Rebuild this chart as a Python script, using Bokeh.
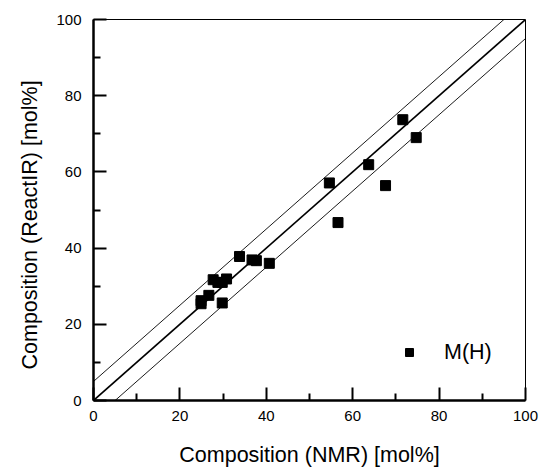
from bokeh.plotting import figure
from bokeh.models import Range1d, Legend, LegendItem, Title, FixedTicker
from bokeh.embed import file_html
from bokeh.resources import INLINE

# data
nmr = [24.9, 24.9, 26.7, 27.7, 28.8, 29.8, 30.8, 29.8, 33.8, 36.7, 37.7, 40.7,
       54.6, 56.6, 63.7, 67.6, 71.6, 74.7]
reactir = [26.2, 25.4, 27.6, 31.7, 31.0, 31.0, 31.9, 25.6, 37.8, 36.9, 36.7, 36.0,
           57.1, 46.7, 61.9, 56.4, 73.7, 69.0]
series_name = "M(H)"

# reference lines y = x and y = x +/- 5
diag_x = [0, 100]
band = 5

major_ticks = [0, 20, 40, 60, 80, 100]
minor_ticks = [10, 30, 50, 70, 90]

FONT = "Liberation Sans"

p = figure(width=540, height=470, output_backend="svg", toolbar_location=None,
           x_range=Range1d(0, 100), y_range=Range1d(0, 100),
           min_border_left=93, min_border_right=15, min_border_top=19,
           min_border_bottom=70)
p.background_fill_color = "white"
p.border_fill_color = "white"
p.grid.visible = False
p.outline_line_color = "black"
p.outline_line_width = 1

# lines
p.line(diag_x, [v for v in diag_x], line_color="black", line_width=1.6)
p.line(diag_x, [v + band for v in diag_x], line_color="black", line_width=0.9)
p.line(diag_x, [v - band for v in diag_x], line_color="black", line_width=0.9)

r = p.scatter(nmr, reactir, marker="square", size=10, fill_color="black",
              line_color="black")

for ax in (p.xaxis[0], p.yaxis[0]):
    ax.ticker = FixedTicker(ticks=major_ticks, minor_ticks=minor_ticks)
    ax.axis_line_width = 2.5
    ax.axis_line_color = "black"
    ax.major_tick_in = 13
    ax.major_tick_out = 0
    ax.minor_tick_in = 7
    ax.minor_tick_out = 0
    ax.major_tick_line_width = 2
    ax.minor_tick_line_width = 2
    ax.major_tick_line_color = "black"
    ax.minor_tick_line_color = "black"
    ax.major_label_text_font = FONT
    ax.major_label_text_font_size = "15px"
    ax.major_label_text_color = "black"
    ax.axis_label_text_font = FONT
    ax.axis_label_text_font_size = "21.5px"
    ax.axis_label_text_font_style = "normal"
    ax.axis_label_text_color = "black"

p.xaxis.major_label_standoff = 10
p.yaxis.major_label_standoff = 12
p.xaxis.axis_label = "Composition (NMR) [mol%]"
p.xaxis.axis_label_standoff = 19

ytitle = Title(text="Composition (ReactIR) [mol%]", align="left", offset=31,
               standoff=24, text_font=FONT, text_font_size="21.5px",
               text_font_style="normal", text_color="black")
p.add_layout(ytitle, "left")

legend = Legend(items=[LegendItem(label=series_name, renderers=[r])],
                location=(306, 35), padding=0, margin=0, spacing=0,
                glyph_width=20, glyph_height=26, label_height=26,
                label_standoff=25, label_text_font=FONT,
                label_text_font_size="21.5px", label_text_color="black",
                border_line_color=None, background_fill_alpha=0)
p.add_layout(legend)

open("out.html", "w").write(file_html(p, INLINE))
